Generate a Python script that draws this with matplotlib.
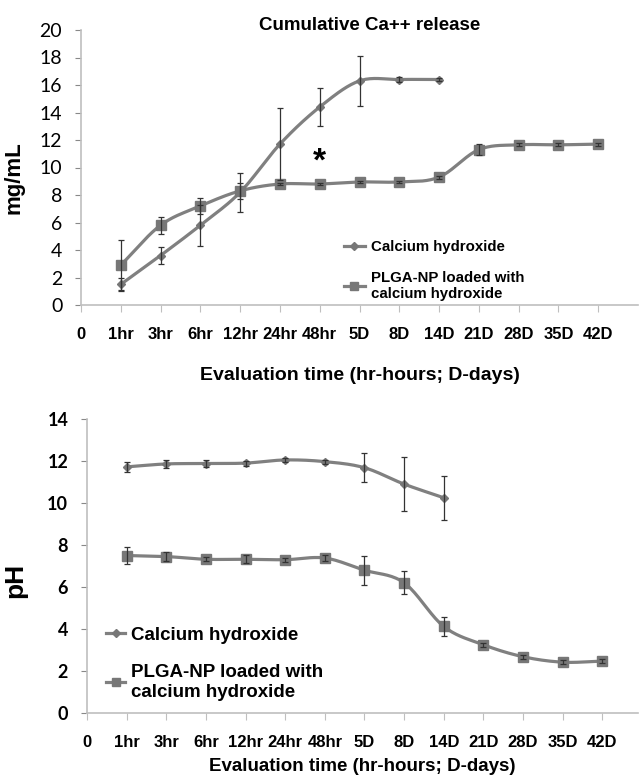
import numpy as np
import matplotlib.pyplot as plt
from matplotlib.lines import Line2D

plt.rcParams['font.family'] = ['Liberation Sans', 'DejaVu Sans']

time_labels = ['0', '1hr', '3hr', '6hr', '12hr', '24hr', '48hr', '5D', '8D',
               '14D', '21D', '28D', '35D', '42D']

# cumulative Ca++ release (mg/mL)
ca_release = [1.5, 3.6, 5.8, 8.2, 11.7, 14.4, 16.3, 16.4, 16.4]
ca_release_err = [0.5, 0.6, 1.5, 1.4, 2.6, 1.35, 1.8, 0.15, 0.1]
np_release = [2.9, 5.8, 7.2, 8.3, 8.8, 8.8, 8.95, 8.95, 9.3, 11.3, 11.65, 11.65, 11.7]
np_release_err = [1.8, 0.6, 0.6, 0.6, 0.1, 0.1, 0.1, 0.1, 0.1, 0.4, 0.1, 0.1, 0.1]

# pH
ca_ph = [11.72, 11.86, 11.88, 11.9, 12.05, 11.97, 11.68, 10.9, 10.25]
ca_ph_err = [0.25, 0.2, 0.15, 0.12, 0.1, 0.1, 0.7, 1.3, 1.05]
np_ph = [7.5, 7.45, 7.32, 7.32, 7.3, 7.38, 6.8, 6.2, 4.12, 3.25, 2.68, 2.42, 2.47]
np_ph_err = [0.4, 0.2, 0.1, 0.2, 0.1, 0.15, 0.7, 0.55, 0.45, 0.1, 0.1, 0.1, 0.1]

legend_labels = ['Calcium hydroxide', 'PLGA-NP loaded with\ncalcium hydroxide']

LINE = '#808080'
MARK = '#777777'
ERR = '#333333'
AXC = '#bfbfbf'


def smooth(x, y, n=20):
    # excel-style smoothed line (catmull-rom through the points)
    x = np.asarray(x, float)
    y = np.asarray(y, float)
    px = np.concatenate([[2 * x[0] - x[1]], x, [2 * x[-1] - x[-2]]])
    py = np.concatenate([[2 * y[0] - y[1]], y, [2 * y[-1] - y[-2]]])
    xs, ys = [], []
    t = np.linspace(0, 1, n)
    for i in range(1, len(px) - 2):
        for p, out in ((px, xs), (py, ys)):
            p0, p1, p2, p3 = p[i - 1], p[i], p[i + 1], p[i + 2]
            out.append(0.5 * (2 * p1 + (-p0 + p2) * t
                              + (2 * p0 - 5 * p1 + 4 * p2 - p3) * t ** 2
                              + (-p0 + 3 * p1 - 3 * p2 + p3) * t ** 3))
    return np.concatenate(xs), np.concatenate(ys)


def draw_series(ax, y, err, marker, ms):
    x = np.arange(1, len(y) + 1)
    sx, sy = smooth(x, y)
    ax.plot(sx, sy, color=LINE, lw=2.3, zorder=2)
    ax.plot(x, y, ls='none', marker=marker, ms=ms, color=MARK, zorder=3)
    ax.errorbar(x, y, yerr=err, fmt='none', ecolor=ERR, elinewidth=0.9,
                capsize=2.2, capthick=0.9, zorder=4)


def style_axes(ax, xmax):
    ax.set_xlim(0, xmax)
    ax.set_xticks(range(len(time_labels)))
    ax.set_xticklabels(time_labels, fontsize=12, fontweight='bold')
    for s in ['top', 'right']:
        ax.spines[s].set_visible(False)
    for s in ['left', 'bottom']:
        ax.spines[s].set_color(AXC)
        ax.spines[s].set_linewidth(1.2)
    ax.tick_params(axis='x', direction='out', length=5, color=AXC, pad=10.5)
    ax.tick_params(axis='y', direction='out', length=4, color='#888888', pad=9.5)


def legend_handles():
    return [Line2D([], [], color=LINE, lw=2.3, marker='D', ms=4, mfc=MARK, mec=MARK),
            Line2D([], [], color=LINE, lw=2.3, marker='s', ms=6, mfc=MARK, mec=MARK)]


fig = plt.figure(figsize=(6.4, 7.78), dpi=100)

# top panel: cumulative Ca++ release
ax1 = fig.add_axes([81 / 640, 1 - 305 / 778, 557 / 640, 275 / 778])
draw_series(ax1, ca_release, ca_release_err, 'D', 4.5)
draw_series(ax1, np_release, np_release_err, 's', 7)
style_axes(ax1, 14.0)
ax1.set_ylim(0, 20)
ax1.set_yticks(range(0, 21, 2))
for t in ax1.get_yticklabels():
    t.set_family('Lato')
    t.set_fontsize(14)
ax1.set_ylabel('mg/mL', fontsize=16, fontweight='bold')
ax1.yaxis.set_label_coords(-0.102, 0.465)
ax1.set_xlabel('Evaluation time (hr-hours; D-days)', fontsize=14, fontweight='bold')
ax1.xaxis.set_label_coords(0.5, -0.225)
ax1.text(6, 10.4, '*', ha='center', va='center', fontsize=24, fontweight='bold')
fig.text(370 / 640, 1 - 25 / 778, 'Cumulative Ca++ release', ha='center', va='center',
         fontsize=13.5, fontweight='bold')
ax1.legend(legend_handles(), legend_labels, loc='upper left',
           bbox_to_anchor=(336 / 640, 1 - 233 / 778), bbox_transform=fig.transFigure,
           frameon=False, borderpad=0, handlelength=1.4, handletextpad=0.45,
           labelspacing=1.1, prop={'weight': 'bold', 'size': 10.8})

# bottom panel: pH
ax2 = fig.add_axes([87 / 640, 1 - 713 / 778, 551 / 640, 294 / 778])
draw_series(ax2, ca_ph, ca_ph_err, 'D', 4.5)
draw_series(ax2, np_ph, np_ph_err, 's', 7)
style_axes(ax2, 13.9)
ax2.set_ylim(0, 14)
ax2.set_yticks(range(0, 15, 2))
for t in ax2.get_yticklabels():
    t.set_family('Lato')
    t.set_fontsize(13)
    t.set_fontweight('bold')
ax2.set_ylabel('pH', fontsize=19, fontweight='bold')
ax2.yaxis.set_label_coords(-0.109, 0.452)
ax2.set_xlabel('Evaluation time (hr-hours; D-days)', fontsize=13.5, fontweight='bold')
ax2.xaxis.set_label_coords(0.5, -0.153)
ax2.legend(legend_handles(), legend_labels, loc='upper left',
           bbox_to_anchor=(97 / 640, 1 - 617 / 778), bbox_transform=fig.transFigure,
           frameon=False, borderpad=0, handlelength=1.0, handletextpad=0.3,
           labelspacing=1.1, prop={'weight': 'bold', 'size': 13.5})

fig.savefig('out.png', dpi=100)
